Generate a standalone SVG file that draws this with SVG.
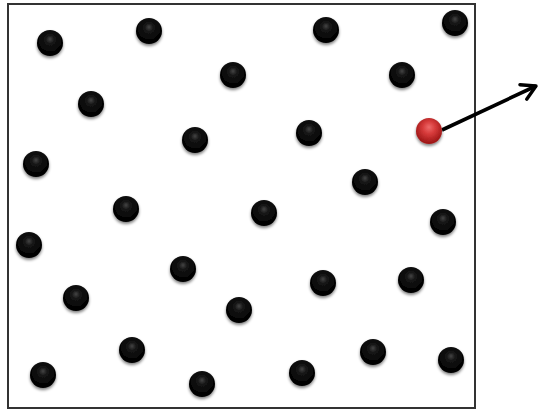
<svg xmlns="http://www.w3.org/2000/svg" width="540" height="412" viewBox="0 0 540 412">
<defs>
<radialGradient id="gb" cx="0.5" cy="0.4" r="0.55" fx="0.5" fy="0.35">
<stop offset="0" stop-color="#444"/>
<stop offset="0.3" stop-color="#151515"/>
<stop offset="1" stop-color="#000"/>
</radialGradient>
<radialGradient id="gr" cx="0.5" cy="0.4" r="0.55" fx="0.5" fy="0.35">
<stop offset="0" stop-color="#ee6a6a"/>
<stop offset="0.45" stop-color="#d63a3a"/>
<stop offset="1" stop-color="#a01818"/>
</radialGradient>
<filter id="sh" x="-50%" y="-50%" width="200%" height="200%">
<feGaussianBlur in="SourceAlpha" stdDeviation="1.5"/>
<feOffset dy="2" result="b"/>
<feComponentTransfer><feFuncA type="linear" slope="0.5"/></feComponentTransfer>
<feMerge><feMergeNode/><feMergeNode in="SourceGraphic"/></feMerge>
</filter>
<marker id="ah" viewBox="0 0 20 20" refX="17" refY="10" markerWidth="20" markerHeight="20" markerUnits="userSpaceOnUse" orient="auto">
<path d="M3,2 L17,10 L3,18" fill="none" stroke="#000" stroke-width="3.4" stroke-linecap="round" stroke-linejoin="round"/>
</marker>
<style>
.b{fill:url(#gb);filter:url(#sh)}
.r{fill:url(#gr);filter:url(#sh)}
</style>
</defs>
<rect x="0" y="0" width="540" height="412" fill="#fff"/>
<rect id="box" x="8" y="4" width="467" height="404" fill="#fff" stroke="#333" stroke-width="2"/>
<g id="particles">
<circle class="b" cx="50" cy="43" r="13"/>
<circle class="b" cx="149" cy="31" r="13"/>
<circle class="b" cx="326" cy="30" r="13"/>
<circle class="b" cx="455" cy="23" r="13"/>
<circle class="b" cx="233" cy="75" r="13"/>
<circle class="b" cx="402" cy="75" r="13"/>
<circle class="b" cx="91" cy="104" r="13"/>
<circle class="b" cx="195" cy="140" r="13"/>
<circle class="b" cx="309" cy="133" r="13"/>
<circle class="b" cx="36" cy="164" r="13"/>
<circle class="b" cx="365" cy="182" r="13"/>
<circle class="b" cx="126" cy="209" r="13"/>
<circle class="b" cx="264" cy="213" r="13"/>
<circle class="b" cx="443" cy="222" r="13"/>
<circle class="b" cx="29" cy="245" r="13"/>
<circle class="b" cx="183" cy="269" r="13"/>
<circle class="b" cx="323" cy="283" r="13"/>
<circle class="b" cx="411" cy="280" r="13"/>
<circle class="b" cx="76" cy="298" r="13"/>
<circle class="b" cx="239" cy="310" r="13"/>
<circle class="b" cx="132" cy="350" r="13"/>
<circle class="b" cx="373" cy="352" r="13"/>
<circle class="b" cx="451" cy="360" r="13"/>
<circle class="b" cx="43" cy="375" r="13"/>
<circle class="b" cx="202" cy="384" r="13"/>
<circle class="b" cx="302" cy="373" r="13"/>
</g>
<g id="connectors">
<line x1="442" y1="130" x2="536" y2="86" stroke="#000" stroke-width="3.6" marker-end="url(#ah)"/>
</g>
<g id="red-particle">
<circle class="r" cx="429" cy="131" r="13"/>
</g>
</svg>
